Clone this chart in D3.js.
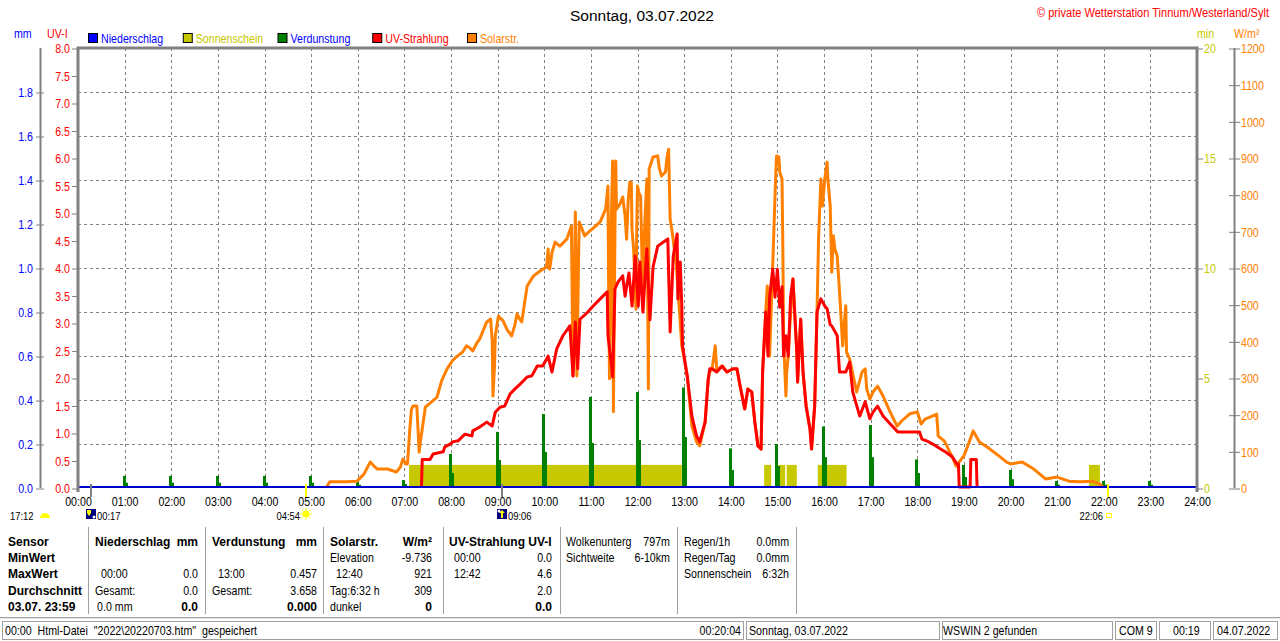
<!DOCTYPE html>
<html>
<head>
<meta charset="utf-8">
<script src="https://cdn.jsdelivr.net/npm/d3@7"></script>
<style>
  body { margin: 0; background: #fff; }
  svg { display: block; }
  text { white-space: pre; }
</style>
</head>
<body>
<svg id="chart" width="1280" height="641"></svg>
<script>
// ---- data (03.07.2022) ----
const hourTicks = d3.range(0, 25);
const hourLabels = ["00:00","01:00","02:00","03:00","04:00","05:00","06:00","07:00","08:00","09:00","10:00","11:00",
  "12:00","13:00","14:00","15:00","16:00","17:00","18:00","19:00","20:00","21:00","22:00","23:00","24:00"];
const mmTicks = [0, 0.2, 0.4, 0.6, 0.8, 1.0, 1.2, 1.4, 1.6, 1.8];
const uvTicks = [0, 0.5, 1, 1.5, 2, 2.5, 3, 3.5, 4, 4.5, 5, 5.5, 6, 6.5, 7, 7.5, 8];
const minTicks = [0, 5, 10, 15, 20];
const solTicks = [0, 100, 200, 300, 400, 500, 600, 700, 800, 900, 1000, 1100, 1200];

const legendNames = ["Niederschlag", "Sonnenschein", "Verdunstung", "UV-Strahlung", "Solarstr."];
const legendBoxColors = ["#0000ff", "#c8c800", "#008000", "#ff0000", "#ff8000"];
const legendTextColors = ["#0000ff", "#c8c800", "#0000ff", "#ff0000", "#ff8000"];

// Solarstrahlung W/m²
const solar = [["05:20",0],["05:24",14],["05:45",14],["05:59",16],["06:08",35],["06:16",68],["06:22",55],["06:25",49],
  ["06:38",49],["06:44",45],["06:50",41],["06:55",55],["06:58",76],["07:02",63],["07:04",63],["07:07",158],["07:09",210],
  ["07:11",221],["07:16",221],["07:18",140],["07:19",95],["07:21",130],["07:23",158],["07:27",218],["07:35",232],
  ["07:42",245],["07:48",290],["07:55",322],["08:02",345],["08:08",357],["08:15",368],["08:20",385],["08:24",380],
  ["08:28",371],["08:33",392],["08:37",404],["08:42",430],["08:46",450],["08:51",458],["08:53",400],["08:54",248],
  ["08:56",330],["08:57",412],["09:01",466],["09:07",453],["09:12",430],["09:18",412],["09:22",440],["09:25",472],
  ["09:28",460],["09:31",450],["09:38",548],["09:46",575],["09:52",585],["09:58",594],["10:03",600],["10:05",649],
  ["10:06",600],["10:07",594],["10:10",640],["10:14",668],["10:20",657],["10:29",676],["10:35",712],["10:36",500],
  ["10:37",303],["10:39",600],["10:40",750],["10:41",550],["10:42",303],["10:44",600],["10:45",723],["10:52",685],
  ["10:57",695],["11:02",704],["11:12",723],["11:19",758],["11:22",821],["11:23",500],["11:24",295],["11:26",700],
  ["11:28",889],["11:29",205],["11:31",700],["11:32",889],["11:33",758],["11:37",770],["11:41",791],["11:44",740],
  ["11:46",676],["11:48",780],["11:50",831],["11:52",831],["11:53",700],["11:55",649],["11:58",485],["11:59",700],
  ["12:00",821],["12:02",800],["12:04",794],["12:06",600],["12:07",485],["12:09",700],["12:12",840],["12:14",267],
  ["12:15",867],["12:20",900],["12:26",903],["12:28",870],["12:31",848],["12:36",859],["12:38",900],["12:40",921],
  ["12:42",731],["12:45",690],["12:50",603],["12:57",385],["13:04",303],["13:10",166],["13:16",123],["13:20",112],
  ["13:27",177],["13:31",294],["13:33",314],["13:36",322],["13:40",385],["13:42",320],["13:49",330],["13:55",314],
  ["14:03",322],["14:08",322],["14:12",275],["14:18",213],["14:22",267],["14:27",259],["14:31",177],["14:35",112],
  ["14:39",104],["14:41",314],["14:45",477],["14:47",548],["14:50",357],["14:52",480],["14:54",603],["14:58",859],
  ["14:59",903],["15:02",900],["15:03",859],["15:06",840],["15:07",660],["15:08",404],["15:11",248],["15:12",314],
  ["15:14",357],["15:16",439],["15:20",567],["15:25",368],["15:26",286],["15:30",458],["15:33",314],["15:37",221],
  ["15:42",158],["15:44",104],["15:48",221],["15:51",477],["15:53",676],["15:56",840],["15:58",766],["16:01",840],
  ["16:04",886],["16:05",840],["16:08",766],["16:10",586],["16:12",685],["16:14",649],["16:17",630],["16:20",532],
  ["16:24",385],["16:28",494],["16:29",368],["16:33",349],["16:42",259],["16:49",314],["16:53",322],["16:55",267],
  ["16:59",240],["17:03",259],["17:09",275],["17:16",248],["17:25",205],["17:34",166],["17:40",180],["17:50",199],
  ["18:00",205],["18:05",172],["18:10",185],["18:20",194],["18:25",199],["18:27",139],["18:35",125],["18:45",82],
  ["18:50",57],["18:55",71],["19:00",85],["19:05",112],["19:12",153],["19:20",123],["19:30",109],["19:45",85],
  ["19:55",68],["20:00",63],["20:15",68],["20:30",49],["20:45",22],["21:00",27],["21:15",16],["21:30",14],
  ["21:45",16],["21:55",8],["21:59",0]];

// UV-Index
const uv = [["07:22",0],["07:23",0.5],["07:33",0.5],["07:37",0.6],["07:50",0.64],["07:52",0.73],["07:59",0.78],
  ["08:02",0.82],["08:09",0.84],["08:18",0.96],["08:27",0.93],["08:28",1.02],["08:37",1.09],["08:46",1.18],["08:53",1.11],
  ["08:57",1.36],["09:03",1.45],["09:09",1.47],["09:16",1.69],["09:22",1.78],["09:29",1.87],["09:38",2.0],["09:44",2.02],
  ["09:51",2.2],["09:58",2.2],["10:05",2.38],["10:10",2.09],["10:16",2.51],["10:24",2.75],["10:33",2.93],["10:37",2.02],
  ["10:40",3.0],["10:43",2.15],["10:46",3.05],["10:56",3.18],["11:03",3.29],["11:12",3.42],["11:21",3.55],["11:22",2.75],
  ["11:27",2.15],["11:28",2.0],["11:31",3.6],["11:35",3.73],["11:41",3.84],["11:44",3.47],["11:46",3.65],["11:49",3.89],
  ["11:53",3.29],["11:57",4.2],["12:01",3.29],["12:03",4.09],["12:07",3.18],["12:12",4.33],["12:16",3.04],["12:20",4.0],
  ["12:26",4.38],["12:33",4.45],["12:39",4.51],["12:42",2.82],["12:46",4.2],["12:51",4.6],["12:52",3.42],["12:55",4.09],
  ["12:57",3.3],["12:58",2.56],["13:04",2.02],["13:10",1.29],["13:16",0.93],["13:20",0.82],["13:27",1.18],["13:31",1.96],
  ["13:33",2.15],["13:36",2.15],["13:42",2.09],["13:49",2.2],["13:55",2.09],["14:03",2.15],["14:08",2.15],["14:12",1.84],
  ["14:18",1.42],["14:22",1.78],["14:27",1.73],["14:31",1.18],["14:35",0.75],["14:39",0.69],["14:41",2.09],["14:45",3.18],
  ["14:48",2.38],["14:50",3.45],["14:54",3.96],["14:57",3.45],["15:00",3.96],["15:03",3.27],["15:06",3.64],["15:08",2.38],
  ["15:11",2.75],["15:14",2.38],["15:17",3.45],["15:20",3.78],["15:25",2.45],["15:26",1.91],["15:30",3.05],["15:33",2.09],
  ["15:37",1.47],["15:42",1.05],["15:44",0.69],["15:48",1.47],["15:51",3.18],["15:56",3.42],["16:01",3.29],["16:04",3.24],
  ["16:08",2.95],["16:10",2.93],["16:17",2.75],["16:20",2.09],["16:28",2.09],["16:33",2.27],["16:37",1.73],["16:46",1.29],
  ["16:53",1.55],["16:59",1.24],["17:03",1.36],["17:09",1.47],["17:16",1.29],["17:25",1.15],["17:35",1.0],["18:03",1.0],
  ["18:06",0.87],["18:12",0.84],["18:20",0.78],["18:30",0.69],["18:36",0.64],["18:45",0.55],["18:51",0.42],["18:53",0.42],
  ["18:54",0],["19:08",0],["19:09",0.5],["19:16",0.5],["19:17",0]];

// Verdunstung mm per hour (main bar) and the smaller part drawn beside it
const evapHour = [0, 0.055, 0.055, 0.055, 0.055, 0.055, 0.03, 0.036, 0.155, 0.255, 0.336, 0.414,
  0.436, 0.457, 0.18, 0.2, 0.28, 0.286, 0.13, 0.105, 0.082, 0.032, 0.032, 0.032];
const evapPart = [0, 0.024, 0.024, 0.024, 0.024, 0.024, 0.015, 0.018, 0.068, 0.127, 0.164, 0.205,
  0.218, 0.232, 0.082, 0.1, 0.14, 0.14, 0.068, 0.05, 0.04, 0.015, 0.015, 0.015];

// Sonnenschein periods, bar height in min
const sunStart = ["07:06", "14:43", "14:57", "15:12", "15:52", "21:41"];
const sunEnd   = ["12:57", "14:52", "15:10", "15:25", "16:29", "21:55"];
const sunValue = 1.05;

// Niederschlag: no rain all day
const rain = [["00:00", 0], ["24:00", 0]];

// sun / moon rise + set markers under the time axis
const markerTimes = ["00:17", "04:54", "09:06", "22:06"];
const markerKinds = ["moonrise", "sunrise", "moonset", "sunset"];

const FONT = "'Liberation Sans',Arial,sans-serif";

const parseT = s => { const [h, m] = s.split(":").map(Number); return h + m / 60; };

// squeeze a text horizontally to 82%, the look of the old narrow system font
const narrow = sel => sel.each(function () {
    let t = d3.select(this);
    let tx = +t.attr("x") || 0, ty = +t.attr("y") || 0;
    t.attr("x", 0).attr("y", 0).attr("transform", `translate(${tx},${ty}) scale(0.82,1)`);
});

const svg = d3.select("#chart").attr("font-family", FONT);
const plot = {left: 78, right: 1197, top: 48, bottom: 488};

const x = d3.scaleLinear().domain([0, 24]).range([plot.left, plot.right]);
const yMm = d3.scaleLinear().domain([0, 2]).range([plot.bottom, plot.top]);
const yUv = d3.scaleLinear().domain([0, 8]).range([plot.bottom, plot.top]);
const yMin = d3.scaleLinear().domain([0, 20]).range([plot.bottom, plot.top]);
const ySol = d3.scaleLinear().domain([0, 1200]).range([plot.bottom, plot.top]);

// title + station
svg.append("text").attr("x", 642).attr("y", 21).attr("text-anchor", "middle")
    .attr("font-size", 15.5).attr("fill", "#000").text("Sonntag, 03.07.2022");
svg.append("text").attr("x", 1269).attr("y", 17).attr("text-anchor", "end")
    .attr("font-size", 13.5).attr("fill", "#ff0000").text("© private Wetterstation Tinnum/Westerland/Sylt")
    .call(narrow);

// unit labels
const units = svg.append("g").attr("font-size", 13);
units.append("text").attr("x", 14).attr("y", 37.5).attr("fill", "#0000ff").text("mm");
units.append("text").attr("x", 47).attr("y", 37.5).attr("fill", "#ff0000").text("UV-I");
units.append("text").attr("x", 1197).attr("y", 37.5).attr("fill", "#c8c800").text("min");
units.append("text").attr("x", 1234).attr("y", 37.5).attr("fill", "#ff8000").text("W/m²");
units.selectAll("text").call(narrow);

// legend
const legend = svg.append("g");
legendNames.forEach((name, i) => {
    let lx = 88 + i * 94.75;
    legend.append("rect").attr("x", lx + 0.5).attr("y", 33.5).attr("width", 9).attr("height", 9)
        .attr("fill", legendBoxColors[i]).attr("stroke", "#000");
    legend.append("text").attr("x", lx + 13).attr("y", 43).attr("font-size", 13)
        .attr("fill", legendTextColors[i]).text(name).call(narrow);
});

// grid
const grid = svg.append("g").attr("stroke", "#808080").attr("stroke-width", 1).attr("stroke-dasharray", "3,3");
grid.selectAll(".vgrid")
    .data(hourTicks.slice(1, -1))
    .join("line")
    .attr("class", "vgrid")
    .attr("x1", d => Math.round(x(d)) + 0.5).attr("x2", d => Math.round(x(d)) + 0.5)
    .attr("y1", plot.top).attr("y2", plot.bottom);
grid.selectAll(".hgrid")
    .data(mmTicks.slice(1))
    .join("line")
    .attr("class", "hgrid")
    .attr("x1", plot.left).attr("x2", plot.right)
    .attr("y1", d => Math.round(yMm(d)) + 0.5).attr("y2", d => Math.round(yMm(d)) + 0.5);

// Sonnenschein bars
svg.append("g").selectAll("rect")
    .data(sunStart.map((s, i) => [parseT(s), parseT(sunEnd[i])]))
    .join("rect")
    .attr("x", d => x(d[0]))
    .attr("width", d => x(d[1]) - x(d[0]))
    .attr("y", yMin(sunValue))
    .attr("height", yMin(0) - yMin(sunValue))
    .attr("fill", "#c8c800");

// Verdunstung bars
const evap = svg.append("g").attr("fill", "#008000");
evap.selectAll(".evhour")
    .data(evapHour.map((v, h) => ({h, v})).filter(d => d.v > 0))
    .join("rect")
    .attr("class", "evhour")
    .attr("x", d => Math.round(x(d.h)) - 2).attr("width", 3)
    .attr("y", d => yMm(d.v)).attr("height", d => yMm(0) - yMm(d.v));
evap.selectAll(".evpart")
    .data(evapPart.map((v, h) => ({h, v})).filter(d => d.v > 0))
    .join("rect")
    .attr("class", "evpart")
    .attr("x", d => Math.round(x(d.h))).attr("width", 3)
    .attr("y", d => yMm(d.v)).attr("height", d => yMm(0) - yMm(d.v));

// Solarstrahlung + UV lines
svg.append("path")
    .datum(solar)
    .attr("fill", "none").attr("stroke", "#ff8000").attr("stroke-width", 3).attr("stroke-linejoin", "round")
    .attr("d", d3.line().x(d => x(parseT(d[0]))).y(d => ySol(d[1]) - 1));
svg.append("path")
    .datum(uv)
    .attr("fill", "none").attr("stroke", "#ff0000").attr("stroke-width", 3).attr("stroke-linejoin", "round")
    .attr("d", d3.line().x(d => x(parseT(d[0]))).y(d => yUv(d[1]) - 1));

// Niederschlag (zero line)
svg.append("path")
    .datum(rain)
    .attr("fill", "none").attr("stroke", "#0000cc").attr("stroke-width", 2)
    .attr("d", d3.line().x(d => x(parseT(d[0]))).y(d => yMm(d[1]) - 1));

// frame
const frame = svg.append("g").attr("stroke", "#808080").attr("stroke-width", 3).attr("fill", "none");
frame.append("path").attr("d", `M${plot.left},${plot.bottom + 4}V${plot.top}H${plot.right}V${plot.bottom + 4}`);

// axes
const styleAxis = (g, color) => {
    g.attr("font-family", FONT).attr("font-size", 13);
    g.select(".domain").remove();
    g.selectAll("line").attr("stroke", "#808080");
    g.selectAll("text").attr("fill", color).call(narrow);
};
svg.append("line").attr("x1", 40.5).attr("x2", 40.5).attr("y1", plot.top).attr("y2", plot.bottom)
    .attr("stroke", "#808080").attr("stroke-width", 2);
svg.append("g").attr("transform", "translate(44,0.5)")
    .call(d3.axisLeft(yMm).tickValues(mmTicks).tickSize(8).tickPadding(3).tickFormat(d3.format(".1f")))
    .call(g => styleAxis(g, "#0000ff"));
svg.append("g").attr("transform", `translate(${plot.left - 1},0.5)`)
    .call(d3.axisLeft(yUv).tickValues(uvTicks).tickSize(5).tickPadding(2).tickFormat(d3.format(".1f")))
    .call(g => styleAxis(g, "#ff0000"));

svg.append("g").attr("transform", `translate(${plot.right + 1},0.5)`)
    .call(d3.axisRight(yMin).tickValues(minTicks).tickSize(5).tickPadding(1).tickFormat(d3.format("d")))
    .call(g => styleAxis(g, "#c8c800"));
svg.append("line").attr("x1", 1234.5).attr("x2", 1234.5).attr("y1", plot.top).attr("y2", plot.bottom)
    .attr("stroke", "#808080").attr("stroke-width", 2);
svg.append("g").attr("transform", "translate(1229,0.5)")
    .call(d3.axisRight(ySol).tickValues(solTicks).tickSize(11).tickPadding(1).tickFormat(d3.format("d")))
    .call(g => styleAxis(g, "#ff8000"));

svg.append("g").attr("transform", `translate(0,${plot.bottom})`)
    .call(d3.axisBottom(x).tickValues(hourTicks).tickSize(0).tickPadding(9).tickFormat((d, i) => hourLabels[i]))
    .call(g => styleAxis(g, "#000"));

// rise / set markers
const markSize = 11.5, markY = 520;
const marks = svg.append("g");
markerTimes.forEach((t, i) => {
    let mx = Math.round(x(parseT(t)));
    let kind = markerKinds[i];
    let sun = kind.startsWith("sun");
    marks.append("line").attr("x1", mx).attr("x2", mx).attr("y1", 484).attr("y2", 497)
        .attr("stroke", sun ? "#ffff00" : "#808080").attr("stroke-width", 2);
    if (!sun) {
        marks.append("rect").attr("x", mx - 5).attr("y", 509).attr("width", 10).attr("height", 10).attr("fill", "#000080");
        let up = kind === "moonset";
        marks.append("path")
            .attr("d", up ? `M${mx - 1},518V513h-2l3,-3l3,3h-2V518Z` : `M${mx - 4},510h4v3l-2,3l-2,-3Z`)
            .attr("fill", "#ffff00");
        marks.append("circle").attr("cx", up ? mx - 3 : mx + 3).attr("cy", up ? 511 : 517).attr("r", 1.5).attr("fill", "#fff");
        marks.append("text").attr("x", mx + 6).attr("y", markY).attr("font-size", markSize).text(t).call(narrow);
    } else if (kind === "sunrise") {
        marks.append("text").attr("x", mx - 6).attr("y", markY).attr("font-size", markSize).attr("text-anchor", "end")
            .text(t).call(narrow);
        let cx = mx, cy = 514;
        d3.range(8).forEach(k => {
            let a = k * Math.PI / 4;
            marks.append("line").attr("x1", cx + 3.5 * Math.cos(a)).attr("y1", cy + 3.5 * Math.sin(a))
                .attr("x2", cx + 6 * Math.cos(a)).attr("y2", cy + 6 * Math.sin(a))
                .attr("stroke", "#ffff00").attr("stroke-width", 1);
        });
        marks.append("circle").attr("cx", cx).attr("cy", cy).attr("r", 3.5).attr("fill", "#ffff00");
    } else {
        marks.append("text").attr("x", mx - 5).attr("y", markY).attr("font-size", markSize).attr("text-anchor", "end")
            .text(t).call(narrow);
        marks.append("rect").attr("x", mx - 1.5).attr("y", 513.5).attr("width", 5).attr("height", 4)
            .attr("fill", "none").attr("stroke", "#ffff00");
    }
});
svg.append("text").attr("x", 10).attr("y", markY).attr("font-size", markSize).text("17:12").call(narrow);
svg.append("path").attr("d", "M40,518a5,5 0 0 1 10,0Z").attr("fill", "#ffff00");

// ---- lower table ----
const tableRowsY = [545.5, 561.5, 578, 594.5, 610.5];
const sepX = [88, 205, 323, 443, 560, 677, 796];
const table = svg.append("g");
table.selectAll("line")
    .data(sepX)
    .join("line")
    .attr("x1", d => d + 0.5).attr("x2", d => d + 0.5).attr("y1", 527).attr("y2", 614)
    .attr("stroke", "#a0a0a0");

// [row, x, text, anchor, bold]
const cells = [
    [0, 8, "Sensor", "start", true], [1, 8, "MinWert", "start", true], [2, 8, "MaxWert", "start", true],
    [3, 8, "Durchschnitt", "start", true], [4, 8, "03.07. 23:59", "start", true],
    [0, 95, "Niederschlag", "start", true], [0, 198, "mm", "end", true],
    [2, 101, "00:00", "start", false], [2, 198, "0.0", "end", false],
    [3, 95, "Gesamt:", "start", false], [3, 198, "0.0", "end", false],
    [4, 97, "0.0 mm", "start", false], [4, 198, "0.0", "end", true],
    [0, 212, "Verdunstung", "start", true], [0, 317, "mm", "end", true],
    [2, 218, "13:00", "start", false], [2, 317, "0.457", "end", false],
    [3, 212, "Gesamt:", "start", false], [3, 317, "3.658", "end", false],
    [4, 317, "0.000", "end", true],
    [0, 330, "Solarstr.", "start", true], [0, 432, "W/m²", "end", true],
    [1, 330, "Elevation", "start", false], [1, 432, "-9.736", "end", false],
    [2, 336, "12:40", "start", false], [2, 432, "921", "end", false],
    [3, 330, "Tag:6:32 h", "start", false], [3, 432, "309", "end", false],
    [4, 330, "dunkel", "start", false], [4, 432, "0", "end", true],
    [0, 449, "UV-Strahlung UV-I", "start", true],
    [1, 454, "00:00", "start", false], [1, 552, "0.0", "end", false],
    [2, 454, "12:42", "start", false], [2, 552, "4.6", "end", false],
    [3, 552, "2.0", "end", false], [4, 552, "0.0", "end", true],
    [0, 566, "Wolkenunterg", "start", false], [0, 670, "797m", "end", false],
    [1, 566, "Sichtweite", "start", false], [1, 670, "6-10km", "end", false],
    [0, 684, "Regen/1h", "start", false], [0, 789, "0.0mm", "end", false],
    [1, 684, "Regen/Tag", "start", false], [1, 789, "0.0mm", "end", false],
    [2, 684, "Sonnenschein", "start", false], [2, 789, "6:32h", "end", false]
];
table.selectAll("text")
    .data(cells)
    .join("text")
    .attr("x", d => d[1])
    .attr("y", d => tableRowsY[d[0]])
    .attr("text-anchor", d => d[3])
    .attr("font-weight", d => d[4] ? "bold" : "normal")
    .attr("font-size", d => d[4] ? 12 : 13)
    .attr("fill", "#000")
    .text(d => d[2]);
table.selectAll("text").filter(d => !d[4]).call(narrow);

// ---- status bar ----
svg.append("line").attr("x1", 0).attr("x2", 1280).attr("y1", 617.5).attr("y2", 617.5).attr("stroke", "#a0a0a0");
svg.append("line").attr("x1", 0).attr("x2", 1280).attr("y1", 618.5).attr("y2", 618.5).attr("stroke", "#e8e8e8");
const panels = [[2, 744], [746, 940], [942, 1113], [1115, 1157], [1159, 1211], [1213, 1278]];
const status = svg.append("g");
status.selectAll("rect")
    .data(panels)
    .join("rect")
    .attr("x", d => d[0] + 0.5).attr("y", 621.5).attr("width", d => d[1] - d[0] - 1).attr("height", 18)
    .attr("fill", "#fff").attr("stroke", "#a0a0a0");
const statusTexts = [[5, "00:00  Html-Datei  \"2022\\20220703.htm\"  gespeichert", "start"],
    [741, "00:20:04", "end"], [749, "Sonntag, 03.07.2022", "start"], [943, "WSWIN 2 gefunden", "start"],
    [1119, "COM 9", "start"], [1173, "00:19", "start"], [1217, "04.07.2022", "start"]];
status.selectAll("text")
    .data(statusTexts)
    .join("text")
    .attr("x", d => d[0]).attr("y", 635).attr("text-anchor", d => d[2])
    .attr("font-size", 13).attr("fill", "#000")
    .text(d => d[1])
    .call(narrow);
</script>
</body>
</html>
